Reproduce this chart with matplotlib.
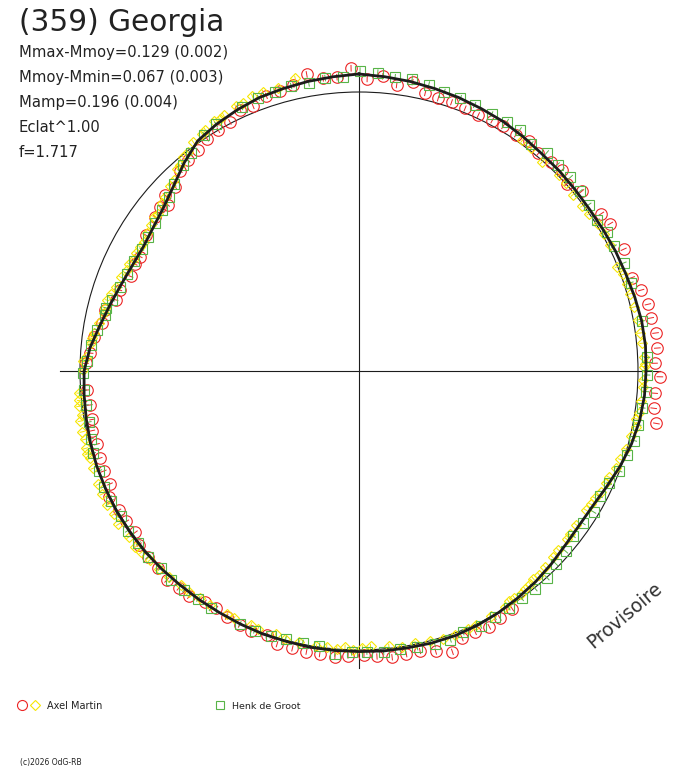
import numpy as np
import matplotlib.pyplot as plt
from matplotlib.collections import LineCollection

# polar light curve: phase runs clockwise from the top, radius from flux
R0 = 279.0  # radius of the mean magnitude circle (px)

fit_phase_deg = [0, 5, 10, 15, 20, 25, 30, 35, 40, 45, 50, 55, 60, 65, 70, 75,
                 80, 85, 90, 95, 100, 105, 110, 115, 120, 125, 130, 135, 140,
                 145, 150, 155, 160, 165, 170, 175, 180, 185, 190, 195, 200,
                 205, 210, 215, 220, 225, 230, 235, 240, 245, 250, 255, 260,
                 265, 270, 275, 280, 285, 290, 295, 300, 305, 310, 315, 320,
                 325, 330, 335, 340, 345, 350, 355]
fit_dm = [-0.068, -0.062, -0.057, -0.051, -0.046, -0.040, -0.035, -0.027,
          -0.019, -0.016, -0.012, -0.010, -0.012, -0.016, -0.019, -0.025,
          -0.031, -0.033, -0.031, -0.029, -0.023, -0.012, 0.004, 0.022,
          0.036, 0.040, 0.036, 0.026, 0.016, 0.008, 0.000, -0.006, -0.010,
          -0.010, -0.008, -0.008, -0.006, -0.006, -0.006, -0.004, -0.004,
          -0.002, 0.000, 0.000, 0.000, -0.002, -0.004, -0.004, -0.004,
          -0.002, 0.000, 0.004, 0.008, 0.012, 0.016, 0.036, 0.064, 0.087,
          0.106, 0.119, 0.124, 0.115, 0.098, 0.068, 0.028, -0.008, -0.023,
          -0.035, -0.046, -0.051, -0.057, -0.062]

# Axel Martin, session 1 (red circles)
red_phase_deg = [1.6, 4.6, 7.5, 10.5, 13.4, 16.2, 19.0, 22.0, 25.0, 28.0, 30.5,
                 33.6, 36.5, 39.5, 42.5, 45.3, 48.0, 51.1, 57.0, 59.6, 65.3,
                 71.1, 74.0, 77.0, 79.7, 82.7, 85.6, 88.5, 91.1, 94.3, 97.2,
                 100.0, 147.2, 150.3, 153.0, 156.0, 158.9, 161.6, 164.7, 167.7,
                 170.5, 173.4, 176.4, 179.0, 182.2, 184.8, 187.9, 190.6, 193.5,
                 196.7, 199.2, 202.5, 205.2, 208.3, 211.0, 213.7, 217.0, 219.7,
                 222.6, 225.5, 228.6, 231.7, 234.2, 237.1, 239.9, 243.2, 245.6,
                 248.6, 251.4, 254.4, 257.4, 259.7, 262.8, 266.0, 271.6, 273.8,
                 277.4, 280.5, 283.5, 286.3, 288.7, 292.5, 295.5, 297.6, 302.5,
                 307.1, 309.5, 311.0, 312.2, 315.0, 318.3, 321.0, 323.9, 326.8,
                 329.7, 332.6, 335.5, 338.2, 341.4, 344.2, 347.1, 350.0, 353.0,
                 355.7, 358.5]
red_dm = [-0.050, -0.063, -0.036, -0.056, -0.026, -0.019, -0.020, -0.016,
          -0.013, -0.018, -0.019, -0.018, -0.025, -0.012, -0.018, -0.027,
          -0.002, -0.027, -0.038, -0.047, -0.047, -0.036, -0.055, -0.066,
          -0.066, -0.075, -0.076, -0.063, -0.082, -0.066, -0.068, -0.086,
          -0.015, -0.020, -0.031, -0.026, -0.029, -0.064, -0.045, -0.029,
          -0.031, -0.035, -0.027, -0.018, -0.022, -0.029, -0.026, -0.025,
          -0.024, -0.024, -0.004, -0.011, -0.006, -0.001, 0.008, 0.004,
          -0.012, -0.012, -0.020, -0.010, -0.011, -0.004, 0.012, 0.008,
          0.004, -0.003, 0.022, 0.019, 0.021, 0.027, 0.022, 0.031, 0.030,
          0.025, 0.022, 0.039, 0.046, 0.070, 0.072, 0.104, 0.107, 0.132,
          0.127, 0.132, 0.108, 0.096, 0.086, 0.104, 0.069, 0.074, 0.042,
          0.031, 0.023, 0.006, 0.001, -0.006, -0.030, -0.024, -0.043,
          -0.045, -0.056, -0.083, -0.060, -0.059, -0.089]

# Axel Martin, session 2 (yellow diamonds)
yellow_phase_deg = [35.3, 37.7, 41.2, 45.6, 47.7, 50.5, 53.5, 55.6, 58.4, 60.8,
                    63.4, 68.0, 69.9, 72.0, 74.1, 76.9, 79.6, 82.3, 84.4, 87.1,
                    88.5, 89.1, 91.8, 93.2, 96.0, 98.6, 99.8, 101.4, 103.5,
                    106.3, 108.7, 110.7, 113.0, 114.5, 116.5, 118.3, 119.9,
                    121.5, 125.3, 127.8, 129.0, 131.9, 133.9, 136.5, 138.5,
                    140.0, 141.2, 142.7, 144.0, 145.6, 147.0, 148.3, 151.8,
                    155.2, 157.1, 160.0, 162.5, 165.2, 168.3, 171.2, 173.8,
                    177.6, 179.3, 181.2, 182.9, 184.6, 186.7, 188.8, 192.4,
                    195.4, 197.6, 201.4, 203.1, 206.8, 208.5, 212.5, 215.0,
                    217.6, 219.8, 222.8, 225.2, 227.9, 230.2, 231.8, 234.2,
                    237.5, 239.7, 242.0, 244.4, 246.5, 249.9, 252.0, 253.0,
                    254.2, 256.0, 257.6, 259.8, 261.0, 262.8, 264.0, 265.5,
                    270.2, 272.0, 273.0, 275.9, 277.0, 278.1, 280.4, 282.7,
                    284.0, 285.7, 287.3, 289.0, 291.5, 293.5, 295.0, 296.4,
                    298.0, 299.6, 301.0, 303.2, 305.0, 306.9, 308.0, 310.4,
                    312.0, 314.3, 316.0, 318.0, 319.0, 320.6, 322.0, 324.1,
                    326.5, 327.5, 329.9, 331.0, 332.1, 335.0, 336.5, 338.8,
                    341.0, 344.0, 347.7]
yellow_dm = [-0.015, -0.011, 0.005, -0.004, -0.002, 0.008, 0.005, 0.002,
             -0.004, -0.005, -0.007, 0.002, -0.007, -0.010, -0.012, -0.012,
             -0.019, -0.016, -0.021, -0.024, -0.028, -0.023, -0.019, -0.022,
             -0.016, -0.017, -0.008, -0.012, -0.004, 0.004, 0.012, 0.018,
             0.030, 0.032, 0.034, 0.044, 0.047, 0.053, 0.051, 0.050, 0.045,
             0.044, 0.040, 0.035, 0.027, 0.032, 0.022, 0.020, 0.013, 0.015,
             0.017, 0.007, 0.002, -0.002, -0.004, -0.006, -0.006, -0.002,
             0.003, 0.000, 0.008, 0.013, 0.009, -0.002, 0.010, 0.002, 0.006,
             0.002, 0.007, 0.004, 0.012, 0.008, 0.013, 0.007, 0.011, 0.008,
             0.008, 0.000, 0.004, -0.005, -0.010, -0.011, -0.016, -0.024,
             -0.020, -0.024, -0.020, -0.023, -0.022, -0.021, -0.016, -0.014,
             -0.021, -0.020, -0.015, -0.017, -0.016, -0.007, -0.013, -0.008,
             -0.007, 0.013, 0.012, 0.024, 0.037, 0.039, 0.045, 0.058, 0.069,
             0.071, 0.070, 0.076, 0.090, 0.094, 0.107, 0.103, 0.113, 0.110,
             0.112, 0.114, 0.107, 0.103, 0.093, 0.097, 0.080, 0.074, 0.057,
             0.052, 0.028, 0.024, 0.008, 0.006, -0.013, -0.022, -0.027,
             -0.038, -0.033, -0.040, -0.050, -0.050, -0.059, -0.059, -0.058,
             -0.077]

# Henk de Groot (green squares)
green_phase_deg = [0.2, 3.6, 7.0, 10.3, 13.7, 17.0, 20.4, 23.5, 27.3, 30.7,
                   33.7, 37.2, 40.7, 43.9, 47.5, 50.9, 54.1, 57.7, 60.8, 63.9,
                   67.8, 72.0, 80.0, 87.3, 90.8, 94.1, 97.4, 100.9, 104.2,
                   107.4, 111.0, 114.2, 117.5, 121.0, 124.2, 127.6, 131.1,
                   134.4, 137.7, 141.0, 144.4, 147.7, 151.1, 154.5, 158.3,
                   161.2, 164.5, 168.1, 171.6, 175.0, 178.4, 181.5, 184.9,
                   188.2, 191.7, 195.3, 198.4, 201.9, 205.2, 212.0, 215.2,
                   218.6, 222.0, 225.2, 228.6, 232.0, 235.4, 238.7, 242.4,
                   245.6, 249.0, 252.8, 255.8, 259.3, 262.9, 266.0, 269.5,
                   272.2, 275.6, 279.0, 282.5, 284.0, 286.0, 289.4, 292.8,
                   296.0, 299.3, 302.5, 306.0, 309.2, 312.5, 315.3, 319.5,
                   322.3, 326.8, 329.9, 336.0, 339.8, 343.2, 346.6, 350.1,
                   353.4, 356.8]
green_dm = [-0.080, -0.075, -0.064, -0.068, -0.060, -0.049, -0.046, -0.042,
            -0.038, -0.042, -0.041, -0.024, -0.034, -0.028, -0.030, -0.023,
            -0.018, -0.011, -0.020, -0.019, -0.026, -0.025, -0.031, -0.036,
            -0.035, -0.033, -0.026, -0.021, -0.018, -0.008, 0.000, 0.019,
            0.029, 0.021, 0.032, 0.034, 0.018, 0.012, -0.003, -0.005, -0.003,
            -0.004, -0.009, -0.013, -0.009, -0.018, -0.018, -0.013, -0.008,
            -0.012, -0.007, -0.010, -0.018, 0.006, 0.006, 0.004, 0.000,
            -0.003, -0.002, -0.004, 0.000, -0.004, -0.009, -0.002, -0.007,
            -0.004, -0.008, 0.000, -0.003, -0.006, 0.003, 0.002, 0.009,
            0.015, 0.014, 0.013, 0.012, 0.025, 0.039, 0.055, 0.076, 0.075,
            0.091, 0.104, 0.113, 0.120, 0.123, 0.120, 0.112, 0.101, 0.087,
            0.066, 0.032, 0.015, -0.013, -0.023, -0.037, -0.046, -0.049,
            -0.053, -0.049, -0.060, -0.060]

red_err = 0.012
yellow_err = 0.010
green_err = 0.012

title = "(359) Georgia"
stats = ["Mmax-Mmoy=0.129 (0.002)", "Mmoy-Mmin=0.067 (0.003)",
         "Mamp=0.196 (0.004)", "Eclat^1.00", "f=1.717"]

RED = "#ec2424"
YELLOW = "#f7e600"
GREEN = "#58b447"
INK = "#1c1c1c"


def to_xy(phase_deg, dm):
    th = np.deg2rad(90.0 - np.asarray(phase_deg, dtype=float))
    r = R0 * 10 ** (-0.4 * np.asarray(dm, dtype=float))
    return r * np.cos(th), r * np.sin(th)


def err_segments(phase_deg, dm, err):
    dm = np.asarray(dm, dtype=float)
    x0, y0 = to_xy(phase_deg, dm - err)
    x1, y1 = to_xy(phase_deg, dm + err)
    return np.stack([np.column_stack([x0, y0]), np.column_stack([x1, y1])], axis=1)


fig = plt.figure(figsize=(6.88, 7.68), dpi=100)
fig.patch.set_facecolor("white")

# main axes in pixel units, origin at the centre of the diagram
ax = fig.add_axes([0, 0, 1, 1])
ax.set_xlim(-359, 329)
ax.set_ylim(-397, 371)
ax.axis("off")

ax.plot([-299, 301], [0, 0], color=INK, lw=0.8, zorder=1)
ax.plot([0, 0], [-297, 298], color=INK, lw=0.8, zorder=1)
ax.add_patch(plt.Circle((0, 0), R0, fill=False, ec=INK, lw=0.8, zorder=1))

series = [
    (red_phase_deg, red_dm, red_err, RED, "o", 8.3, 3),
    (yellow_phase_deg, yellow_dm, yellow_err, YELLOW, "D", 5.6, 4),
    (green_phase_deg, green_dm, green_err, GREEN, "s", 7.0, 5),
]
for ph, dm, err, col, mk, ms, z in series:
    x, y = to_xy(ph, dm)
    ax.add_collection(LineCollection(err_segments(ph, dm, err), colors=col,
                                     linewidths=0.7, zorder=z))
    ax.plot(x, y, linestyle="none", marker=mk, ms=ms, mfc="none", mec=col,
            mew=0.8, zorder=z)

fx, fy = to_xy(fit_phase_deg + fit_phase_deg[:1], fit_dm + fit_dm[:1])
ax.plot(fx, fy, color=INK, lw=2.0, zorder=6, solid_joinstyle="round")

# overlay in image pixel coordinates for the texts and the legend
ov = fig.add_axes([0, 0, 1, 1], facecolor="none")
ov.set_xlim(0, 688)
ov.set_ylim(768, 0)
ov.axis("off")

ov.text(19, 31, title, fontsize=21.3, color="#222222", va="baseline")
for i, s in enumerate(stats):
    ov.text(19, 57 + 25 * i, s, fontsize=10.6, color="#222222", va="baseline")

ov.plot([22], [705], marker="o", ms=7.2, mfc="none", mec=RED, mew=0.8)
ov.plot([35], [705], marker="D", ms=5.6, mfc="none", mec=YELLOW, mew=0.8)
ov.text(47, 709, "Axel Martin", fontsize=7, color="#222222", va="baseline")
ov.plot([219.5], [705], marker="s", ms=5.3, mfc="none", mec=GREEN, mew=0.8)
ov.text(232.5, 709, "Henk de Groot", fontsize=6.8, color="#222222", va="baseline")

ov.text(20, 765, "(c)2026 OdG-RB", fontsize=5.5, color="#222222", va="baseline")

ov.text(624.5, 615, "Provisoire", fontsize=13.5, color="#333333", rotation=40,
        ha="center", va="center", rotation_mode="anchor")

fig.savefig("out.png", dpi=100)
